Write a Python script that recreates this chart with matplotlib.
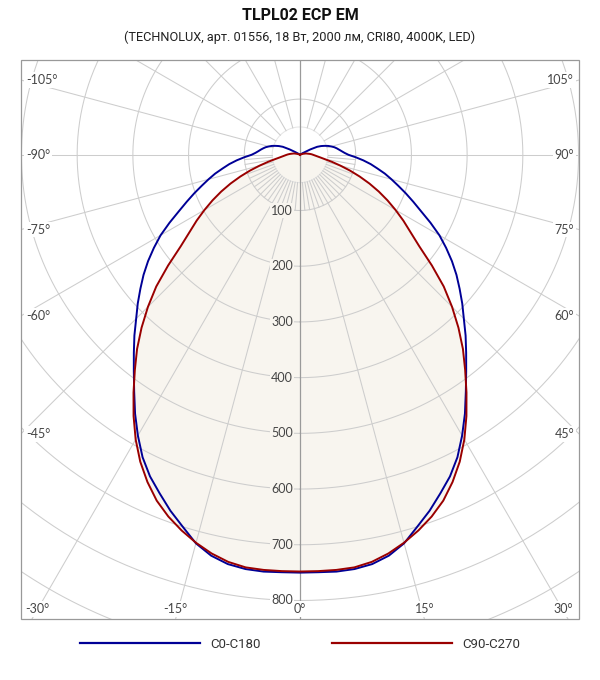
import numpy as np
import matplotlib.pyplot as plt
from matplotlib.patches import Rectangle
from matplotlib.lines import Line2D

# light distribution, cd, gamma 0..180 step 2.5 (both planes symmetric)
gamma = [i * 2.5 for i in range(73)]
c0_c180 = [750, 750, 751, 750, 746, 737, 722, 700, 680, 658, 637, 612, 582,
           551, 519, 490, 464, 440, 416, 395, 374, 354, 333, 311, 289, 264,
           240, 220, 202, 185, 170, 156, 141, 128, 114, 100, 87, 80, 75, 71,
           67, 63, 58, 53, 47, 41, 34, 21, 10, 5, 2, 1] + [0] * 21
c90_c270 = [748, 748, 748, 747, 742, 733, 721, 707, 691, 672, 648, 621, 590,
            556, 521, 487, 455, 421, 386, 350, 309, 270, 242, 220, 198, 177,
            156, 135, 114, 94, 75, 59, 46, 37, 31, 27, 24, 21, 18, 15, 13, 11,
            8, 6, 4, 3, 2, 1] + [0] * 25
series_names = ["C0-C180", "C90-C270"]
ring_labels = [100, 200, 300, 400, 500, 600, 700, 800]
left_angles = [-105, -90, -75, -60, -45]
bottom_angles = [-30, -15, 0, 15, 30]
right_angles = [105, 90, 75, 60, 45]

title = "TLPL02 ECP EM"
subtitle = "(TECHNOLUX, арт. 01556, 18 Вт, 2000 лм, CRI80, 4000K, LED)"

blue = "#000096"
red = "#9a0000"
fill_col = "#f8f5ef"
grid_col = "#cdcdcd"
lab_col = "#454545"
lab_font = "Lato"

W, H = 600, 680
cx, cy = 300, 154.8          # pole position, px from top-left
px_per_cd = 0.5571
rmax = 1000
R = rmax * px_per_cd
box = (21, 60, 579, 619)     # frame l, t, r, b in px

fig = plt.figure(figsize=(W / 100, H / 100), dpi=100)
ax = fig.add_axes([(cx - R) / W, (H - cy - R) / H, 2 * R / W, 2 * R / H],
                  projection="polar")
ax.set_theta_zero_location("S")
ax.set_theta_direction(1)
ax.set_ylim(0, rmax)
ax.set_axis_off()

clip = Rectangle((box[0] / W, 1 - box[3] / H), (box[2] - box[0]) / W,
                 (box[3] - box[1]) / H, transform=fig.transFigure)


def clipped(artists):
    for a in artists:
        a.set_clip_path(clip)


def full(vals):
    v = np.asarray(vals, dtype=float)
    return np.r_[v[::-1], v[1:]]


g = np.deg2rad(np.r_[-np.asarray(gamma)[::-1], np.asarray(gamma)[1:]])
blue_r = full(c0_c180)
red_r = full(c90_c270)

# fill under red curve
clipped(ax.fill(g, red_r, color=fill_col, lw=0, zorder=1))

# grid circles
th = np.linspace(0, 2 * np.pi, 721)
clipped(ax.plot(th, np.full_like(th, 50), color="#e6e6e6", lw=0.75, zorder=2))
for r in range(100, 1001, 100):
    clipped(ax.plot(th, np.full_like(th, r), color=grid_col, lw=0.75, zorder=2))

# rays
for a in range(-165, 181, 15):
    if a in (0, 180):
        continue
    t = np.deg2rad(a)
    clipped(ax.plot([t, t], [50, rmax], color=grid_col, lw=0.75, zorder=2))
for a in range(-85, 86, 5):
    if a % 15 == 0:
        continue
    t = np.deg2rad(a)
    clipped(ax.plot([t, t], [50, 100], color=grid_col, lw=0.75, zorder=2))
clipped(ax.plot([0, 0], [0, rmax], color="#9a9a9a", lw=0.9, zorder=3))
clipped(ax.plot([np.pi, np.pi], [0, rmax], color="#9a9a9a", lw=0.9, zorder=3))

# curves
clipped(ax.plot(g, blue_r, color=blue, lw=1.4, zorder=5))
clipped(ax.plot(g, red_r, color=red, lw=1.4, zorder=6))

# frame
fig.add_artist(Rectangle((box[0] / W, 1 - box[3] / H), (box[2] - box[0]) / W,
                         (box[3] - box[1]) / H, transform=fig.transFigure,
                         fill=False, edgecolor="#999999", lw=0.9, zorder=10))

# intensity labels along 0 deg
for r in ring_labels:
    bg = fill_col if r < 750 else "white"
    ax.annotate(str(r), xy=(0, r), xytext=(-7, 0), textcoords="offset pixels",
                ha="right", va="center", fontsize=9, color=lab_col,
                family=lab_font, annotation_clip=False, zorder=8,
                bbox=dict(boxstyle="square,pad=0.1", fc=bg, ec="none"))

# angle labels on the frame
x_edge = (cx - box[0]) / px_per_cd
y_edge = (box[3] - cy) / px_per_cd
lab_kw = dict(textcoords="offset pixels", fontsize=9, color=lab_col,
              family=lab_font, annotation_clip=False, zorder=8,
              bbox=dict(boxstyle="square,pad=0.15", fc="white", ec="none"))
for a in left_angles:
    r = x_edge / abs(np.sin(np.deg2rad(a)))
    ax.annotate(f"{a}°", xy=(np.deg2rad(a), r), xytext=(5, 0),
                ha="left", va="center", **lab_kw)
for a in right_angles:
    r = x_edge / abs(np.sin(np.deg2rad(a)))
    ax.annotate(f"{a}°", xy=(np.deg2rad(a), r), xytext=(-5, 0),
                ha="right", va="center", **lab_kw)
for a in bottom_angles:
    r = y_edge / np.cos(np.deg2rad(a))
    dx = 5 if a <= -30 else (-5 if a >= 30 else 0)
    ax.annotate(f"{a}°", xy=(np.deg2rad(a), r), xytext=(dx, 4),
                ha="center", va="bottom", **lab_kw)

# titles
fig.text(0.5, 1 - 16 / H, title, ha="center", va="center", fontsize=11.5,
         fontweight="bold", family="Roboto", color="#111111")
fig.text(0.5, 1 - 37 / H, subtitle, ha="center", va="center", fontsize=9.2,
         family="Roboto", color="#222222")

# legend
handles = [Line2D([], [], color=blue, lw=1.6), Line2D([], [], color=red, lw=1.6)]
fig.legend(handles, series_names, ncol=2, loc="center",
           bbox_to_anchor=(0.5, 1 - 644.3 / H), frameon=False,
           handlelength=9.1, handletextpad=0.75, columnspacing=5.4,
           prop={"family": "Roboto", "size": 9.5}, labelcolor="#333333")

fig.savefig("out.png", dpi=100, facecolor="white")
